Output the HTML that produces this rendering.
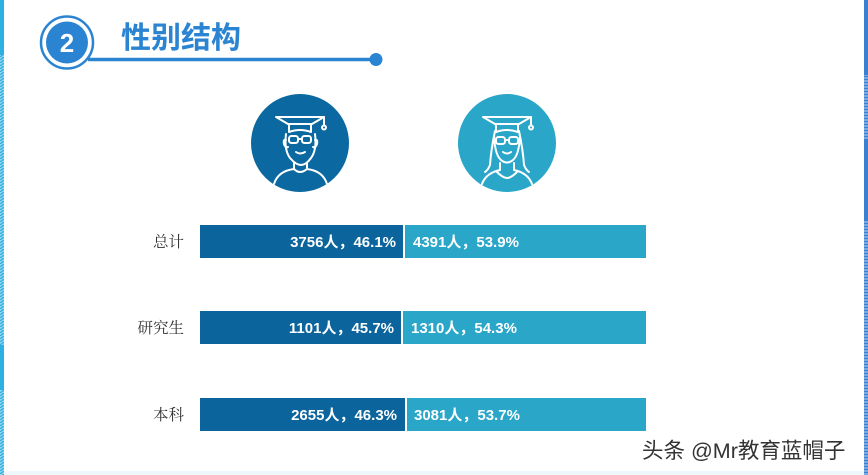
<!DOCTYPE html>
<html>
<head>
<meta charset="utf-8">
<style>
html,body{margin:0;padding:0;background:#fff;}
body{width:868px;height:475px;overflow:hidden;position:relative;}
svg{display:block;}
</style>
</head>
<body>
<svg width="868" height="475" viewBox="0 0 868 475" xmlns="http://www.w3.org/2000/svg">
  <defs>
    <pattern id="hatchL" width="4" height="3" patternUnits="userSpaceOnUse">
      <rect width="4" height="3" fill="#8fd3ef"/>
      <line x1="0" y1="3" x2="4" y2="0" stroke="#2cb1e2" stroke-width="1.3"/>
    </pattern>
    <pattern id="hatchR" width="4" height="3" patternUnits="userSpaceOnUse">
      <rect width="4" height="3" fill="#8cb6e8"/>
      <line x1="0" y1="1.5" x2="4" y2="1.5" stroke="#3a7fd0" stroke-width="1.4"/>
    </pattern>
  </defs>
  <rect width="868" height="475" fill="#fff"/>
  <!-- left edge -->
  <rect x="0" y="0" width="4" height="475" fill="url(#hatchL)"/>
  <rect x="0" y="0" width="4" height="55" fill="#2cb1e2"/>
  <rect x="0" y="345" width="4" height="45" fill="#2cb1e2"/>
  <!-- right edge -->
  <rect x="864" y="0" width="4" height="475" fill="url(#hatchR)"/>
  <rect x="864" y="0" width="4" height="75" fill="#3a7fd0"/>
  <rect x="864" y="140" width="4" height="80" fill="#3a7fd0"/>
  <!-- bottom faint line -->
  <rect x="4" y="471" width="860" height="4" fill="#eef8fc"/>

  <!-- header -->
  <line x1="88" y1="59.5" x2="374" y2="59.5" stroke="#2b84d2" stroke-width="3.5"/>
  <circle cx="376" cy="59.5" r="6.5" fill="#2b84d2"/>
  <circle cx="67" cy="42.5" r="26" fill="#fff" stroke="#2b84d2" stroke-width="2.5"/>
  <circle cx="67" cy="42.5" r="21" fill="#2b84d2"/>
  <text x="67" y="52" text-anchor="middle" font-family="Liberation Sans, sans-serif" font-weight="bold" font-size="26" fill="#fff">2</text>
  <text x="121" y="48" font-family="'Liberation Sans','Noto Sans CJK SC',sans-serif" font-weight="bold" font-size="30" fill="#2b84d2">性别结构</text>

  <!-- male icon -->
  <circle cx="300" cy="143" r="49" fill="#0b68a0"/>
  <g fill="none" stroke="#fff" stroke-width="2" stroke-linecap="round" stroke-linejoin="round">
    <path d="M276 117 L324 117 L312 124 L288 124 Z"/>
    <path d="M289 124 L289 132 Q300 128 311 132 L311 124"/>
    <path d="M324 117 L324 125"/>
    <circle cx="324" cy="127.5" r="2"/>
    <path d="M286 134 Q284 150 290 158 Q296 165 301 165 Q306 165 311 158 Q317 150 315 134"/>
    <path d="M286 140 Q283 139 284 144 Q285 148 288 147"/>
    <path d="M315 140 Q318 139 317 144 Q316 148 313 147"/>
    <rect x="289" y="136" width="9" height="7" rx="2.5"/>
    <rect x="302" y="136" width="9" height="7" rx="2.5"/>
    <path d="M298 139 L302 139"/>
    <path d="M296 152 Q300 155 305 152"/>
    <path d="M294 163 L294 169 Q278 171 274 184"/>
    <path d="M307 163 L307 169 Q323 171 327 184"/>
    <path d="M294 169 Q300 175 307 169"/>
  </g>

  <!-- female icon -->
  <circle cx="507" cy="143" r="49" fill="#2aa6c9"/>
  <g fill="none" stroke="#fff" stroke-width="2" stroke-linecap="round" stroke-linejoin="round">
    <path d="M483 117 L531 117 L519 124 L495 124 Z"/>
    <path d="M496 124 L496 132 Q507 128 518 132 L518 124"/>
    <path d="M531 117 L531 125"/>
    <circle cx="531" cy="127.5" r="2"/>
    <path d="M495 131 Q491 150 490 165 Q488 170 485 172"/>
    <path d="M519 131 Q523 150 524 165 Q526 170 529 172"/>
    <path d="M494 136 Q495 155 501 160 Q507 165 513 160 Q519 155 520 136"/>
    <rect x="496" y="137" width="9" height="7" rx="2.5"/>
    <rect x="509" y="137" width="9" height="7" rx="2.5"/>
    <path d="M505 140 L509 140"/>
    <path d="M503 152 Q507 155 511 152"/>
    <path d="M500 163 L500 170 Q486 173 482 184"/>
    <path d="M514 163 L514 170 Q528 173 532 184"/>
    <path d="M497 172 Q503 178 507 178 Q511 178 517 172"/>
  </g>

  <!-- bars -->
  <g font-family="'Liberation Sans','Noto Sans CJK SC',sans-serif" font-weight="bold" font-size="15" fill="#fff">
    <rect x="200" y="225" width="203" height="33" fill="#0b649b"/>
    <rect x="405" y="225" width="241" height="33" fill="#2aa6c9"/>
    <text x="396" y="247" text-anchor="end">3756人，46.1%</text>
    <text x="413" y="247">4391人，53.9%</text>

    <rect x="200" y="311" width="201" height="33" fill="#0b649b"/>
    <rect x="403" y="311" width="243" height="33" fill="#2aa6c9"/>
    <text x="394" y="333" text-anchor="end">1101人，45.7%</text>
    <text x="411" y="333">1310人，54.3%</text>

    <rect x="200" y="398" width="205" height="33" fill="#0b649b"/>
    <rect x="407" y="398" width="239" height="33" fill="#2aa6c9"/>
    <text x="397" y="420" text-anchor="end">2655人，46.3%</text>
    <text x="414" y="420">3081人，53.7%</text>
  </g>

  <!-- labels -->
  <g font-family="'Liberation Serif','Noto Serif CJK SC',serif" font-size="15.5" fill="#333" text-anchor="end">
    <text x="184" y="247">总计</text>
    <text x="184" y="333">研究生</text>
    <text x="184" y="420">本科</text>
  </g>

  <!-- watermark -->
  <text x="642" y="458" font-family="'Liberation Sans','Noto Sans CJK SC',sans-serif" font-size="21.5" fill="#fff" stroke="#fff" stroke-width="3">头条 @Mr教育蓝帽子</text>
  <text x="642" y="458" font-family="'Liberation Sans','Noto Sans CJK SC',sans-serif" font-size="21.5" fill="#333">头条 @Mr教育蓝帽子</text>
</svg>
</body>
</html>
